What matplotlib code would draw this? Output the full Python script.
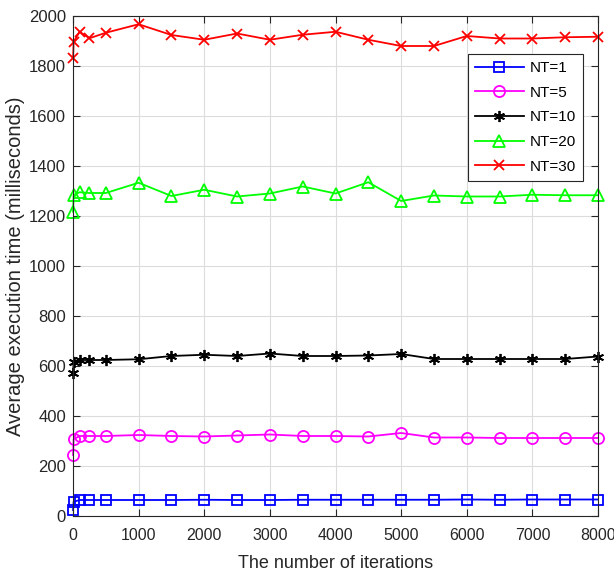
import matplotlib
matplotlib.use("Agg")
import matplotlib.pyplot as plt

iterations = [1, 10, 100, 250, 500, 1000, 1500, 2000, 2500, 3000, 3500, 4000,
              4500, 5000, 5500, 6000, 6500, 7000, 7500, 8000]
nt1 = [24, 57, 64, 64, 64, 64, 64, 65, 64, 64, 65, 65, 65, 65, 65, 66, 65, 66, 66, 66]
nt5 = [244, 307, 320, 320, 320, 324, 320, 318, 322, 326, 320, 320, 318, 332, 314, 314, 312, 312, 312, 312]
nt10 = [571, 617, 624, 624, 624, 627, 640, 645, 640, 650, 640, 640, 642, 648, 628, 628, 628, 628, 628, 638]
nt20 = [1217, 1284, 1295, 1292, 1292, 1333, 1280, 1305, 1278, 1290, 1318, 1290, 1335, 1260, 1282, 1278, 1278, 1285, 1283, 1283]
nt30 = [1831, 1897, 1937, 1911, 1933, 1967, 1924, 1905, 1930, 1905, 1925, 1937, 1905, 1880, 1880, 1920, 1910, 1910, 1915, 1917]
labels = ["NT=1", "NT=5", "NT=10", "NT=20", "NT=30"]
x_ticks = [0, 1000, 2000, 3000, 4000, 5000, 6000, 7000, 8000]
y_ticks = list(range(0, 2001, 200))

plt.rcParams['font.family'] = ['Liberation Sans', 'DejaVu Sans']
fig = plt.figure(figsize=(6.14, 5.78), dpi=100)
ax = fig.add_axes([73/614, 1 - 516/578, 525/614, 500/578])

styles = [
    (nt1, '#0000ff', 's', 7),
    (nt5, '#ff00ff', 'o', 8),
    (nt10, '#000000', (6, 2, 0), 8),
    (nt20, '#00ff00', '^', 8),
    (nt30, '#ff0000', 'x', 7),
]
for (vals, col, mk, ms), lab in zip(styles, labels):
    ax.plot(iterations, vals, color=col, marker=mk, markersize=ms, markerfacecolor='none',
            markeredgecolor=col, markeredgewidth=1.3, linewidth=1.3, label=lab, clip_on=False)

ax.set_xlim(0, 8000)
ax.set_ylim(0, 2000)
ax.set_xticks(x_ticks)
ax.set_yticks(y_ticks)
ax.grid(True, color='#dcdcdc', linewidth=0.8)
ax.set_axisbelow(True)
ax.tick_params(direction='in', top=True, right=True, labelsize=12, length=5, colors='#262626')
ax.tick_params(axis='x', pad=9, labelsize=11.5)
ax.tick_params(axis='y', pad=5)
for s in ax.spines.values():
    s.set_color('#262626')
ax.set_xlabel("The number of iterations", fontsize=13, color='#262626', labelpad=8)
ax.set_ylabel("Average execution time (milliseconds)", fontsize=14.5, color='#262626', labelpad=3)

leg = ax.legend(loc='upper right', bbox_to_anchor=(0.971, 0.924), borderaxespad=0, fontsize=11,
                handlelength=3.2, fancybox=False, framealpha=1, edgecolor='#262626',
                borderpad=0.45, labelspacing=0.7, handletextpad=0.4)
leg.get_frame().set_linewidth(0.8)

fig.savefig("out.png", dpi=100)
